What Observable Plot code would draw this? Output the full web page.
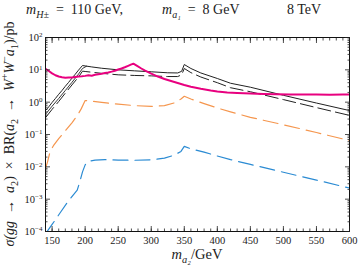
<!DOCTYPE html>
<html><head><meta charset="utf-8">
<script src="https://cdn.jsdelivr.net/npm/d3@7"></script>
<script src="https://cdn.jsdelivr.net/npm/@observablehq/plot@0.6"></script>
<style>body{margin:0;background:#fff}svg{display:block}</style>
</head><body><div id="chart"></div>
<script>
// ---- data ----
const massA = [140,145,150,155,160,165,170,175,180,185,190,196,200,210,225,250,275,300,325,340,346,350,360,375,400,420,450,500,550,600];
const valA  = [0.55,0.72,0.98,1.3,1.75,2.3,3.1,4.1,5.5,7.3,9.8,13.6,13.2,12.3,11.2,10.0,9.3,8.7,8.1,8.0,9.0,14.6,11.0,8.0,5.4,3.85,2.9,1.63,0.94,0.55];
const massMid = [140,150,160,170,180,190,196,202];
const valMid  = [0.42,0.75,1.3,2.3,4.1,7.4,11.0,12.9];
const massC = [140,150,160,170,180,190,196,200,225,250,275,300,325,340,346,350,360,375,400,420,450,500,550,600];
const valC  = [0.33,0.6,1.05,1.9,3.4,6.0,9.1,8.9,7.8,7.0,6.7,6.5,6.2,6.2,7.0,11,8.2,6.0,4.0,2.8,2.1,1.2,0.68,0.39];
const massO = [140,143,147,152,160,170,180,188,194,200,205,225,250,275,300,320,335,345,350,360,380,400,420,450,500,550,600];
const valO  = [0.009,0.014,0.03,0.045,0.075,0.13,0.23,0.38,0.62,1.12,1.1,0.98,0.87,0.78,0.74,0.78,0.95,1.25,1.52,1.25,0.9,0.66,0.5,0.34,0.2,0.115,0.065];
const massB = [140,150,163,175,188,192,196,200,205,215,230,250,275,300,320,335,345,350,360,380,400,420,450,500,550,600];
const valB  = [8.5e-5,1.65e-4,4e-4,9e-4,1.9e-3,3.5e-3,7e-3,1.15e-2,1.48e-2,1.62e-2,1.67e-2,1.62e-2,1.6e-2,1.65e-2,1.85e-2,2.3e-2,3.0e-2,4.3e-2,3.6e-2,2.85e-2,2.16e-2,1.67e-2,1.19e-2,6.8e-3,3.9e-3,2.2e-3];
const massM = [140,145,150,155,160,165,170,175,180,185,190,195,200,205,210,215,220,225,230,235,240,245,250,255,260,265,270,273,278,285,290,300,310,320,330,340,350,360,375,390,400,415,430,450,470,490,510,530,550,570,590,600];
const valM  = [10.8,9.2,7.8,6.8,6.2,5.9,5.7,5.8,5.8,6.0,6.2,6.3,6.5,6.8,6.6,7.0,7.3,7.6,8.0,8.3,8.8,9.4,10.2,11.0,12.0,13.3,14.8,15.5,13.5,11.0,9.6,7.6,6.2,5.2,4.5,3.9,3.4,3.0,2.6,2.3,2.15,2.0,1.92,1.85,1.8,1.76,1.74,1.72,1.72,1.71,1.73,1.74];

const xMajor = [150,200,250,300,350,400,450,500,550,600];
const xMinor = d3.range(140, 601, 10);
const yMajor = [1e-4,1e-3,1e-2,1e-1,1,10,100];
const yMinor = d3.range(-4, 2).flatMap(e => d3.range(2, 10).map(k => k * 10 ** e));

const rows = (ms, vs) => ms.map((m, i) => ({m, v: vs[i]}));
const line = (ms, vs, o) => Plot.line(rows(ms, vs), {x: "m", y: "v", clip: true, ...o});

const font = "Liberation Serif, DejaVu Serif, serif";
const inward = (k, anchor, ticks, size) => (k === "x" ? Plot.axisX : Plot.axisY)(ticks, {anchor, tickSize: -size, tickFormat: () => "", strokeWidth: 0.8});

const chart = Plot.plot({
  width: 358, height: 267,
  marginLeft: 45, marginRight: 9, marginTop: 37, marginBottom: 36,
  style: {fontFamily: font, fontSize: "10.5px", background: "white", color: "#222"},
  x: {domain: [140, 600], label: null},
  y: {type: "log", domain: [1e-4, 100], label: null},
  marks: [
    line(massB, valB, {stroke: "#2b8bd3", strokeWidth: 1.2, strokeDasharray: "15,7"}),
    line(massO, valO, {stroke: "#f5964e", strokeWidth: 1.2, strokeDasharray: "15,7"}),
    line(massC, valC, {stroke: "#222", strokeWidth: 1, strokeDasharray: "13,5"}),
    line(massMid, valMid, {stroke: "#222", strokeWidth: 0.9}),
    line(massA, valA, {stroke: "#222", strokeWidth: 1}),
    line(massM, valM, {stroke: "#e8007f", strokeWidth: 2}),
    Plot.frame({stroke: "#111", strokeWidth: 1}),
    inward("x", "bottom", xMajor, 5), inward("x", "top", xMajor, 5),
    inward("x", "bottom", xMinor, 2.5), inward("x", "top", xMinor, 2.5),
    inward("y", "left", yMajor, 5), inward("y", "right", yMajor, 5),
    inward("y", "left", yMinor, 2.5), inward("y", "right", yMinor, 2.5),
    Plot.axisX(xMajor, {anchor: "bottom", tickSize: 0, tickPadding: 5, tickFormat: d => String(d)}),
    Plot.axisY(yMajor, {anchor: "left", tickSize: 0, tickPadding: 3, tickFormat: d => String(Math.round(Math.log10(d)))})
  ]
});
document.getElementById("chart").append(chart);

const svg = d3.select(chart);
// drop the empty labels of the tick-only axes
svg.selectAll("text").filter(function() { return this.textContent === ""; }).remove();
// y tick labels as 10^n
svg.selectAll('g[aria-label="y-axis tick label"] text').each(function() {
  const e = this.textContent.replace("-", "\u2212");
  const t = d3.select(this); t.text("");
  t.append("tspan").text("10");
  t.append("tspan").attr("dy", "-0.5em").attr("font-size", "7px").text(e);
});

function rich(sel, parts, fs) {
  let shift = 0;
  for (const [s, k] of parts) {
    const target = k.includes("sub") ? 0.3 * fs : k.includes("sup") ? -0.4 * fs : 0;
    const ts = sel.append("tspan").text(s).attr("dy", target - shift);
    shift = target;
    if (k.includes("sub") || k.includes("sup")) ts.attr("font-size", fs * 0.72);
    if (k.startsWith("i")) ts.attr("font-style", "italic");
  }
}
const txt = (x, y, fs, anchor = "start") => svg.append("text").attr("x", x).attr("y", y)
  .attr("font-size", fs).attr("font-family", font).attr("text-anchor", anchor).attr("fill", "#222")
  .style("white-space", "pre");

rich(txt(26, 14, 14), [["m", "i"], ["H\u00b1", "isub"], ["  =  110 GeV,", "n"]], 14);
rich(txt(162, 14, 14), [["m", "i"], ["a\u2081", "isub"], ["  =  8 GeV", "n"]], 14);
rich(txt(287, 14, 14), [["8 TeV", "n"]], 14);
rich(txt(197, 259, 14.5, "middle"), [["m", "i"], ["a\u2082", "isub"], ["/GeV", "n"]], 14.5);
const yl = svg.append("text").attr("transform", "translate(14,134) rotate(-90)")
  .attr("font-size", 14).attr("font-family", font).attr("text-anchor", "middle").attr("fill", "#222")
  .style("white-space", "pre");
rich(yl, [["\u03c3(", "i"], ["gg", "i"], ["  \u2192  ", "n"], ["a", "i"], ["2", "sub"], [")  \u00d7  BR(", "n"], ["a", "i"], ["2", "sub"], ["  \u2192  ", "n"], ["W", "i"], ["+", "sup"], ["W", "i"], ["\u2212", "sup"], ["a", "i"], ["1", "sub"], [")/pb", "n"]], 14);
</script></body></html>
